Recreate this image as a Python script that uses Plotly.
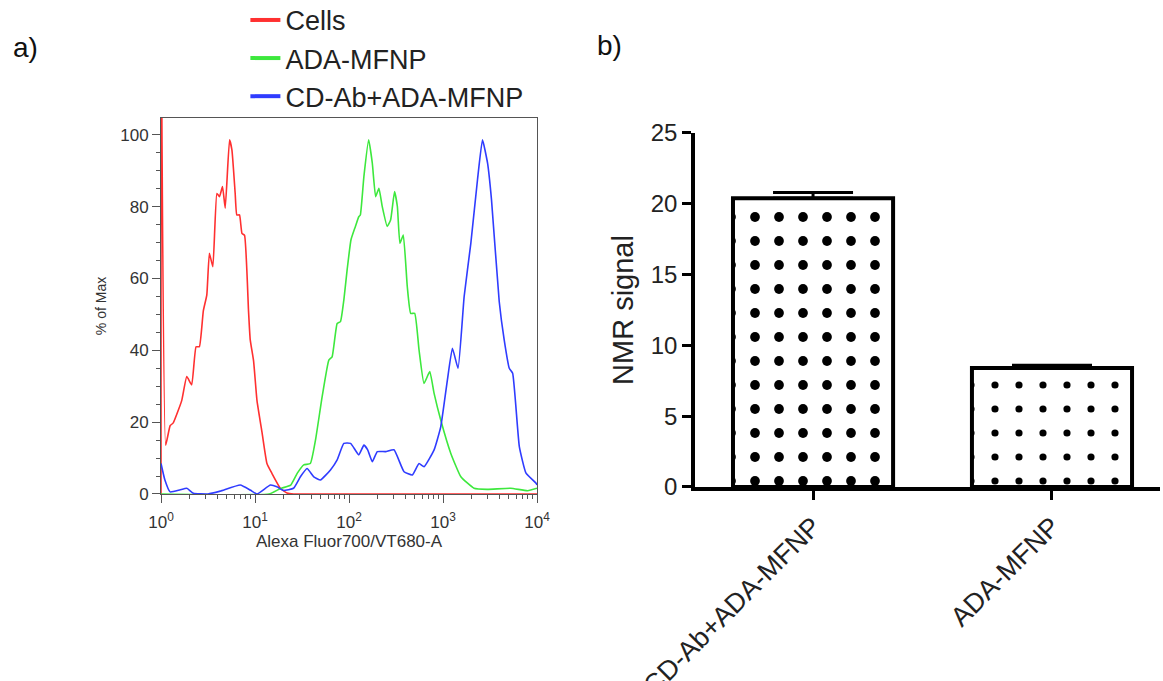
import plotly.graph_objects as go

# ---------------- data ----------------
series_names = ["Cells", "ADA-MFNP", "CD-Ab+ADA-MFNP"]
series_colors = ["#ff3030", "#3de83d", "#2f3cff"]

cells_x = [1.0, 1.0, 1.12, 1.25, 1.35, 1.66, 1.88, 2.12, 2.36, 2.56, 2.82, 3.07, 3.27, 3.56,
           3.93, 4.19, 4.51, 4.82, 5.36, 5.68, 6.15, 6.41, 6.84, 7.26, 7.74, 8.53, 8.89, 9.66,
           10.5, 11.9, 13.4, 15.1, 18.6, 21.9, 25.7, 100, 1000, 10000]
cells_y = [0, 140, 13.6, 19, 19.8, 26, 32.7, 30.4, 41, 41, 51, 55.4, 67, 63.3,
           83.7, 82.8, 85.6, 79.6, 98.6, 95.8, 83.8, 77.7, 77.7, 72.6, 72, 51, 43, 37,
           26, 17, 8.5, 5.8, 1.6, 0.3, 0, 0, 0, 0]

ada_x = [1.0, 14.1, 18.6, 24, 28.2, 33, 38.8, 44, 51.8, 61, 66.1, 74.8, 81.1, 88.1, 95.5,
         105, 117, 127, 132, 144, 162, 177, 192, 208, 226, 255, 277, 305, 327, 348, 378,
         417, 453, 500, 556, 628, 723, 804, 946, 1211, 1549, 2138, 2951, 5248, 7943, 10000]
ada_y = [0, 0, 1.5, 2.5, 5.8, 8.1, 8.5, 15, 27.1, 37.3, 38.2, 47.5, 48, 54, 62.4,
         70.8, 74.5, 77.2, 77.7, 88.4, 98.6, 92.1, 82.8, 85.1, 80, 74.5, 76.3, 84.2, 80, 69.8, 72.1,
         57.7, 50.3, 50.3, 40.1, 30.8, 34.1, 28, 20.6, 11.3, 4.8, 1.6, 1.3, 1.6, 0.9, 1.6]

cdab_x = [1.0, 1.10, 1.25, 1.58, 1.88, 2.21, 3.16, 4.27, 6.97, 8.89, 10.5, 14.6, 17.1, 20, 25.7,
          30.4, 35.8, 42.2, 49.7, 63.5, 74.8, 88.1, 104, 127, 144, 158, 177, 200, 245, 301,
          385, 472, 556, 628, 804, 946, 1114, 1259, 1445, 1679, 1977, 2328, 2630, 2979, 3281,
          3963, 4477, 5070, 5508, 6486, 7638, 9772, 10000]
cdab_y = [8.5, 3.9, 0.6, 1.1, 1.6, 0.2, 0, 0.8, 2.5, 1.1, 0, 2.5, 2.0, 1.0, 1.6,
          4.8, 7.1, 4.8, 3.9, 6.7, 9.5, 14.1, 14.1, 10.9, 13.6, 12.3, 9, 11.8, 11.8, 12.3,
          6.2, 5.3, 8.5, 7.6, 12.3, 18.7, 31.8, 40.6, 35, 55, 69.8, 87.5, 98.6, 92.1, 81.9,
          53.6, 42.9, 35, 33.6, 13.2, 5.8, 3, 2.5]

flow_x_ticks = [1, 10, 100, 1000, 10000]
flow_x_ticktext = ["10<sup>0</sup>", "10<sup>1</sup>", "10<sup>2</sup>", "10<sup>3</sup>", "10<sup>4</sup>"]
flow_x_minor = [m * d for d in [1, 10, 100, 1000] for m in range(2, 10)]
flow_y_ticks = [0, 20, 40, 60, 80, 100]

bar_categories = ["CD-Ab+ADA-MFNP", "ADA-MFNP"]
bar_values = [20.4, 8.4]
bar_errors = [0.4, 0.2]
bar_y_ticks = [0, 5, 10, 15, 20, 25]

# ---------------- figure ----------------
fig = go.Figure()

curves = [(cells_x, cells_y), (ada_x, ada_y), (cdab_x, cdab_y)]
for (xs, ys), name, col in zip(curves, series_names, series_colors):
    fig.add_trace(go.Scatter(
        x=xs, y=ys, mode="lines", name=name, legendgroup=name, showlegend=False,
        line=dict(color=col, width=1.6, shape="spline", smoothing=0.4),
        xaxis="x", yaxis="y"))
# legend entries (thicker lines, like the reference key)
for name, col in zip(series_names, series_colors):
    fig.add_trace(go.Scatter(
        x=[None], y=[None], mode="lines", name=name, legendgroup=name,
        line=dict(color=col, width=4), xaxis="x", yaxis="y"))

fig.add_trace(go.Bar(
    x=bar_categories, y=bar_values, width=0.67,
    error_y=dict(type="data", array=bar_errors, symmetric=False, arrayminus=[0, 0],
                 color="black", thickness=3, width=40),
    marker=dict(
        color="white",
        line=dict(color="black", width=4),
        pattern=dict(shape=[".", "."], size=[24, 24], solidity=[0.13, 0.07],
                     fgcolor="black", bgcolor="white", fgopacity=1, fillmode="overlay"),
    ),
    showlegend=False, xaxis="x2", yaxis="y2"))

axis_gray = "#555555"
text_gray = "#333333"

fig.update_layout(
    width=1163, height=681,
    margin=dict(l=0, r=0, t=0, b=0, autoexpand=False),
    paper_bgcolor="white", plot_bgcolor="white",
    font=dict(family="Liberation Sans, Arial, sans-serif", color="#222222"),
    showlegend=True,
    legend=dict(x=0.211, y=1.006, xanchor="left", yanchor="top",
                font=dict(size=27, color="#222222"), tracegroupgap=0,
                bgcolor="rgba(0,0,0,0)"),
    xaxis=dict(
        domain=[0.13844, 0.46174], type="log", range=[0, 4], automargin=False,
        tickmode="array", tickvals=flow_x_ticks, ticktext=flow_x_ticktext,
        ticks="outside", ticklen=8, tickcolor=axis_gray, tickwidth=1, ticklabelstandoff=5,
        minor=dict(tickmode="array", tickvals=flow_x_minor, ticks="outside",
                   ticklen=4, tickcolor=axis_gray, tickwidth=1),
        showline=True, linecolor=axis_gray, linewidth=1, mirror=True,
        showgrid=False, zeroline=False,
        tickfont=dict(size=17, color=text_gray),
        title=dict(text="Alexa Fluor700/VT680-A", font=dict(size=17, color=text_gray), standoff=0),
        anchor="y"),
    yaxis=dict(
        domain=[0.27460, 0.82673], range=[0, 104.7], automargin=False,
        tickmode="array", tickvals=flow_y_ticks,
        ticks="outside", ticklen=8, tickcolor=axis_gray, tickwidth=1,
        minor=dict(dtick=5, ticks="outside", ticklen=4, tickcolor=axis_gray, tickwidth=1),
        showline=True, linecolor=axis_gray, linewidth=1, mirror=True,
        showgrid=False, zeroline=False,
        tickfont=dict(size=17, color=text_gray),
        title=dict(text="% of Max", font=dict(size=14, color=text_gray), standoff=10),
        anchor="x"),
    xaxis2=dict(
        domain=[0.59759, 0.99742], type="category", range=[-0.494, 1.452], automargin=False,
        ticks="outside", ticklen=9, tickwidth=3, tickcolor="black",
        showline=True, linecolor="black", linewidth=3.5,
        showgrid=False, zeroline=False, tickangle=-45,
        tickfont=dict(size=27, color="#222222"),
        anchor="y2"),
    yaxis2=dict(
        domain=[0.28488, 0.80470], range=[0, 25], automargin=False,
        tickmode="array", tickvals=bar_y_ticks,
        ticks="outside", ticklen=9, tickwidth=3, tickcolor="black",
        showline=True, linecolor="black", linewidth=3.5,
        showgrid=False, zeroline=False,
        tickfont=dict(size=24, color="#222222"),
        title=dict(text="NMR signal", font=dict(size=29, color="#222222"), standoff=10),
        anchor="x2"),
    annotations=[
        dict(text="a)", x=25 / 1163, y=1 - 48 / 681, xref="paper", yref="paper",
             showarrow=False, font=dict(size=28, color="#111111"), xanchor="center", yanchor="middle"),
        dict(text="b)", x=610 / 1163, y=1 - 46 / 681, xref="paper", yref="paper",
             showarrow=False, font=dict(size=28, color="#111111"), xanchor="center", yanchor="middle"),
    ],
)

fig.write_html("out.html")
